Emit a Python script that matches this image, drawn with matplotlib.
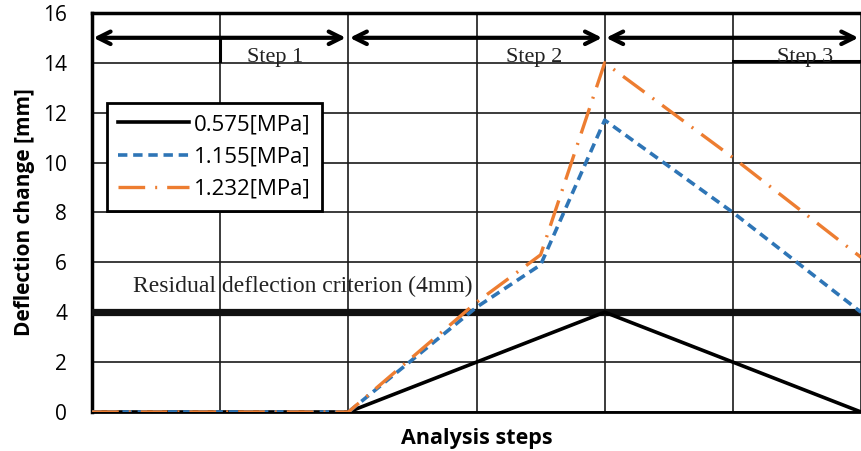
import numpy as np
import matplotlib as mpl
mpl.use('Agg')
import matplotlib.pyplot as plt

# data
steps = [0, 1, 2, 3, 3.5, 4, 5, 6]
p0575 = [0, 0, 0, 2, 3, 4, 2, 0]
p1155 = [0, 0, 0, 4.2, 5.9, 11.7, 8, 4]
p1232 = [0, 0, 0, 4.4, 6.3, 14, 10.2, 6.2]
labels = ['0.575[MPa]', '1.155[MPa]', '1.232[MPa]']
criterion = 4
step_names = ['Step 1', 'Step 2', 'Step 3']
step_bounds = [0, 2, 4, 6]

fig = plt.figure(figsize=(8.61, 4.51), dpi=100)
ax = fig.add_axes([0.107, 0.0865, 0.893, 0.885])

# criterion line + text
ax.axhline(criterion, color='#111111', lw=5.2, zorder=3)
ax.text(0.32, 5.05, 'Residual deflection criterion (4mm)', family='Liberation Serif',
        fontsize=17, color='#222222', va='center', ha='left', zorder=4)

ax.plot(steps, p0575, color='black', lw=2.6, label=labels[0], zorder=5,
        solid_joinstyle='miter')
ax.plot(steps, p1155, color='#2e75b6', lw=2.6, linestyle=(0, (2.6, 1.6)),
        label=labels[1], zorder=6)
ax.plot(steps, p1232, color='#ed7d31', lw=2.4, linestyle=(0, (8, 3, 0.6, 3)),
        label=labels[2], zorder=7)

# step arrows on top
for i in range(3):
    ax.annotate('', xy=(step_bounds[i + 1] - 0.02, 15), xytext=(step_bounds[i] + 0.01, 15),
                arrowprops=dict(arrowstyle='<->,head_length=0.9,head_width=0.45',
                                lw=3, color='black', shrinkA=0, shrinkB=0), zorder=8)
step_x = [1.43, 3.45, 5.56]
for sx, name in zip(step_x, step_names):
    ax.text(sx, 14.2, name, family='Liberation Serif', fontsize=16,
            ha='center', va='center', color='#222222')
ax.plot([1, 1], [14.05, 15], color='black', lw=2.2)
ax.plot([5, 6], [14.05, 14.05], color='black', lw=2.2)

ax.set_xlim(0, 6)
ax.set_ylim(0, 16)
ax.set_yticks(np.arange(0, 17, 2))
ax.set_xticks(np.arange(0, 7, 1))
ax.tick_params(axis='both', length=0)
ax.tick_params(axis='y', pad=18, labelsize=15)
ax.set_xticklabels([])
for lab in ax.get_yticklabels():
    lab.set_family('Open Sans')
ax.grid(True, color='#1a1a1a', lw=1.2)
ax.set_axisbelow(True)

ax.spines['right'].set_visible(False)
ax.spines['left'].set_linewidth(2.5)
ax.spines['top'].set_linewidth(2.5)
ax.spines['bottom'].set_linewidth(2)

ax.set_ylabel('Deflection change [mm]', family='Open Sans', fontweight='bold',
              fontsize=15, labelpad=6)
ax.set_xlabel('Analysis steps', family='Open Sans', fontweight='bold',
              fontsize=15.5, labelpad=8)

leg = ax.legend(loc='upper left', bbox_to_anchor=(0.0195, 0.774), frameon=True,
                fancybox=False, edgecolor='black', framealpha=1,
                prop={'family': 'Open Sans', 'size': 16},
                handlelength=3.2, handletextpad=0.2, labelspacing=0.5,
                borderpad=0.5, borderaxespad=0)
leg.get_frame().set_linewidth(2)
leg.set_zorder(10)

fig.savefig('out.png', dpi=100)
